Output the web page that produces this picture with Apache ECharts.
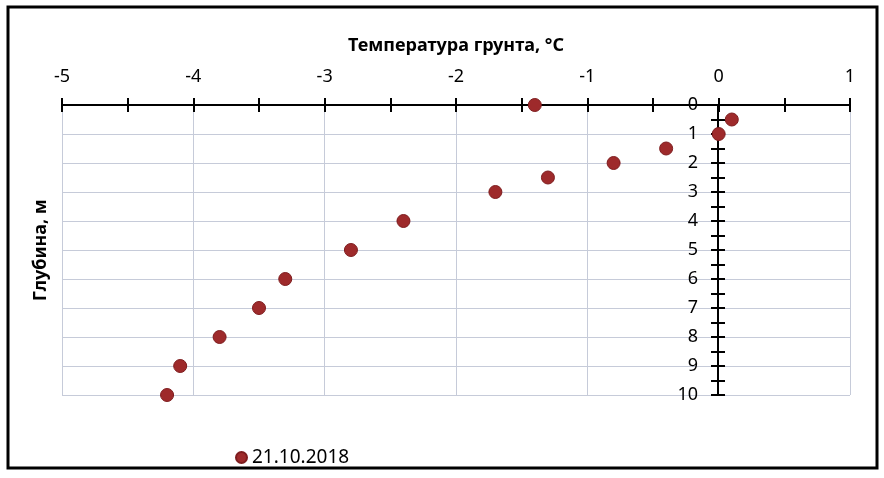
<!DOCTYPE html>
<html>
<head>
<meta charset="utf-8">
<script src="https://cdn.jsdelivr.net/npm/echarts@6/dist/echarts.min.js"></script>
<style>
  html, body { margin: 0; padding: 0; background: #fff; }
  #chart { width: 884px; height: 478px; }
</style>
</head>
<body>
<div id="chart"></div>
<script>
// температура грунта, °C
const temps = [-1.4, 0.1, 0, -0.4, -0.8, -1.3, -1.7, -2.4, -2.8, -3.3, -3.5, -3.8, -4.1, -4.2];
// глубина, м
const depths = [0, 0.5, 1, 1.5, 2, 2.5, 3, 4, 5, 6, 7, 8, 9, 10];
const seriesName = '21.10.2018';

const font = 'Noto Sans';
const gridColor = '#c6cbd9';

const chart = echarts.init(document.getElementById('chart'));

const tickCommon = {
    length: 7,
    lineStyle: { color: '#000', width: 2 }
};

// вертикальная ось стоит на нуле температуры (x = 718 px)
const yOffset = -656;

const option = {
    backgroundColor: '#fff',
    graphic: [{
        type: 'rect',
        shape: { x: 8, y: 7, width: 869, height: 461 },
        style: { fill: 'none', stroke: '#000', lineWidth: 3 },
        z: 100
    }],
    grid: { left: 62, right: 34, top: 105, bottom: 83, outerBoundsMode: 'none', containLabel: false },
    legend: {
        left: 230,
        top: 443,
        icon: 'circle',
        itemWidth: 11,
        itemHeight: 11,
        itemGap: 5,
        textStyle: { fontFamily: font, fontSize: 19, color: '#000' },
        data: [seriesName]
    },
    xAxis: [{
        type: 'value',
        position: 'top',
        min: -5,
        max: 1,
        interval: 1,
        name: 'Температура грунта, °C',
        nameLocation: 'middle',
        nameGap: 50,
        nameTextStyle: { fontFamily: font, fontSize: 18, fontWeight: 'bold', color: '#000' },
        axisLine: { onZero: false, lineStyle: { color: '#000', width: 2 } },
        axisTick: Object.assign({ inside: false }, tickCommon),
        minorTick: Object.assign({ show: true, splitNumber: 2 }, tickCommon),
        axisLabel: { fontFamily: font, fontSize: 18, color: '#000', margin: 19 },
        splitLine: { show: true, lineStyle: { color: gridColor, width: 1 } }
    }, {
        type: 'value',
        position: 'top',
        min: -5,
        max: 1,
        interval: 1,
        axisLine: { onZero: false, lineStyle: { color: '#000', width: 2 } },
        axisTick: Object.assign({ inside: true }, tickCommon),
        minorTick: Object.assign({ show: true, splitNumber: 2 }, tickCommon),
        axisLabel: { show: false },
        splitLine: { show: false }
    }],
    yAxis: [{
        type: 'value',
        position: 'left',
        offset: yOffset,
        inverse: true,
        min: 0,
        max: 10,
        interval: 1,
        name: 'Глубина, м',
        nameLocation: 'middle',
        nameGap: 668,
        nameTextStyle: { fontFamily: font, fontSize: 18, fontWeight: 'bold', color: '#000' },
        axisLine: { onZero: false, lineStyle: { color: '#000', width: 2 } },
        axisTick: Object.assign({ inside: false }, tickCommon),
        minorTick: Object.assign({ show: true, splitNumber: 2 }, tickCommon),
        axisLabel: { fontFamily: font, fontSize: 18, color: '#000', margin: 20 },
        splitLine: { show: true, lineStyle: { color: gridColor, width: 1 } }
    }, {
        type: 'value',
        position: 'left',
        offset: yOffset,
        inverse: true,
        min: 0,
        max: 10,
        interval: 1,
        axisLine: { onZero: false, lineStyle: { color: '#000', width: 2 } },
        axisTick: Object.assign({ inside: true }, tickCommon),
        minorTick: Object.assign({ show: true, splitNumber: 2 }, tickCommon),
        axisLabel: { show: false },
        splitLine: { show: false }
    }],
    series: [{
        name: seriesName,
        type: 'scatter',
        symbol: 'circle',
        symbolSize: 13,
        itemStyle: { color: '#9e2a2b', borderColor: '#7e1c1e', borderWidth: 1, opacity: 1 },
        data: temps.map((t, i) => [t, depths[i]]),
        z: 5
    }]
};

chart.setOption(option);
</script>
</body>
</html>
